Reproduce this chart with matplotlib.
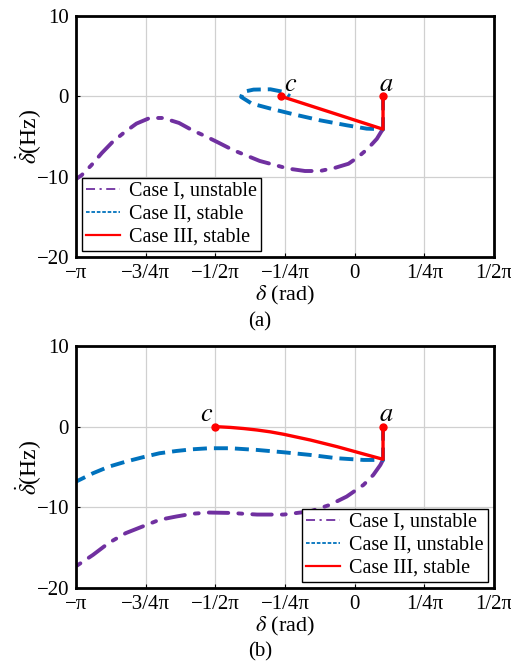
"""Phase-plane trajectories for three fault cases, panels (a) and (b)."""

import numpy as np
import matplotlib

matplotlib.use("Agg")

import matplotlib.pyplot as plt  # noqa: E402
from matplotlib.lines import Line2D  # noqa: E402

plt.rcParams["font.family"] = ["Liberation Serif", "DejaVu Serif"]
plt.rcParams["mathtext.fontset"] = "stix"

PURPLE = "#7030A0"
BLUE = "#0072BD"
RED = "#FF0000"

# ---- panel (a) data: (delta rad, delta-dot Hz)
a_case1_x = [0.32, 0.30, 0.25, 0.15, 0.04, -0.07, -0.22, -0.39, -0.56, -0.75, -1.07, -1.37,
             -1.53, -1.68, -1.83, -1.98, -2.16, -2.31, -2.46, -2.60, -2.73, -2.85, -2.97, -3.08, -3.14]
a_case1_y = [-4.1, -4.4, -5.3, -6.5, -7.55, -8.4, -8.9, -9.3, -9.3, -9.0, -8.05, -6.7,
             -5.8, -4.98, -4.23, -3.32, -2.70, -2.70, -3.40, -4.52, -5.69, -7.06, -8.6, -9.84, -10.3]
a_case2_x = [0.32, 0.32, 0.135, -0.09, -0.39, -0.69, -0.95, -1.16, -1.28, -1.26, -1.14, -0.95, -0.80, -0.73]
a_case2_y = [0.0, -4.1, -4.03, -3.61, -2.99, -2.24, -1.53, -0.91, -0.08, 0.54, 0.83, 0.87, 0.54, 0.0]
a_case3_x = [0.32, 0.32, -0.83]
a_case3_y = [0.0, -4.1, 0.0]
a_point_c = (-0.83, 0.0)

# ---- panel (b) data
b_case1_x = [0.32, 0.29, 0.21, 0.10, -0.09, -0.28, -0.50, -0.80, -1.10, -1.40, -1.64, -1.83,
             -2.01, -2.20, -2.35, -2.58, -2.77, -2.95, -3.14]
b_case1_y = [-4.1, -4.75, -5.99, -7.22, -8.67, -9.7, -10.5, -10.9, -10.9, -10.7, -10.65, -10.8,
             -11.14, -11.55, -12.2, -13.2, -14.4, -15.9, -17.3]
b_case2_x = [0.32, 0.32, 0.10, -0.20, -0.50, -0.80, -1.10, -1.40, -1.64, -1.83, -2.01, -2.20,
             -2.39, -2.58, -2.77, -2.95, -3.14]
b_case2_y = [0.0, -4.13, -4.13, -3.92, -3.51, -3.18, -2.89, -2.68, -2.68, -2.81, -3.02, -3.30,
             -3.80, -4.34, -4.96, -5.78, -6.81]
b_case3_x = [0.32, 0.32, 0.10, -0.20, -0.50, -0.80, -0.95, -1.10, -1.25, -1.40, -1.57]
b_case3_y = [0.0, -4.05, -3.39, -2.48, -1.66, -0.95, -0.65, -0.42, -0.24, -0.10, 0.0]
b_point_c = (-1.57, 0.0)

point_a = (0.32, 0.0)

xtick_vals = np.pi * np.array([-1, -0.75, -0.5, -0.25, 0, 0.25, 0.5])
xtick_labels = ["−π", "−3/4π", "−1/2π", "−1/4π", "0", "1/4π", "1/2π"]
ytick_vals = [-20, -10, 0, 10]
ytick_labels = ["−20", "−10", "0", "10"]

labels_a = ["Case I, unstable", "Case II, stable", "Case III, stable"]
labels_b = ["Case I, unstable", "Case II, unstable", "Case III, stable"]


def draw_panel(ax, c1, c2, c3, pc, labels, legend_loc, c_right):
    ax.plot(*c1, color=PURPLE, lw=2.8, ls=(0, (5, 2.6, 1.0, 2.6)), solid_capstyle="round",
            dash_capstyle="round")
    ax.plot(*c2, color=BLUE, lw=2.8, ls=(0, (3.6, 1.8)))
    ax.plot(*c3, color=RED, lw=2.4)
    ax.plot([pc[0], point_a[0]], [pc[1], point_a[1]], "o", color=RED, ms=5, ls="none")
    if c_right:
        ax.text(pc[0] + 0.03, 0.7, "$c$", fontsize=19, ha="left")
    else:
        ax.text(pc[0] - 0.02, 0.7, "$c$", fontsize=19, ha="right")
    ax.text(point_a[0] + 0.04, 0.7, "$a$", fontsize=19, ha="center")

    ax.set_xlim(-np.pi, np.pi / 2)
    ax.set_ylim(-20, 10)
    ax.set_xticks(xtick_vals, xtick_labels)
    ax.set_yticks(ytick_vals, ytick_labels)
    ax.tick_params(labelsize=15, direction="in", length=3, width=0.8, pad=5)
    ax.grid(True, color="#d0d0d0", lw=0.9)
    for s in ax.spines.values():
        s.set_linewidth(2.0)
    ax.set_xlabel(r"$\delta$ (rad)", fontsize=16, labelpad=1)
    ax.set_ylabel(r"$\dot{\delta}$(Hz)", fontsize=17)
    ax.yaxis.set_label_coords(-0.077, 0.5)

    handles = [
        Line2D([], [], color=PURPLE, lw=1.3, ls=(0, (5, 2.5, 1.2, 2.5))),
        Line2D([], [], color=BLUE, lw=1.3, ls=(0, (2, 1))),
        Line2D([], [], color=RED, lw=1.6),
    ]
    leg = ax.legend(handles, labels, loc=legend_loc, fontsize=14.5, frameon=True,
                    fancybox=False, edgecolor="black", framealpha=1,
                    borderaxespad=0.3, handlelength=1.7, labelspacing=0.2,
                    borderpad=0.2, handletextpad=0.45)
    leg.get_frame().set_linewidth(1.0)


fig = plt.figure(figsize=(5.11, 6.64), dpi=100)
ax_a = fig.add_axes([0.1487, 0.613, 0.818, 0.363])
ax_b = fig.add_axes([0.1487, 0.1145, 0.818, 0.3645])

draw_panel(ax_a, (a_case1_x, a_case1_y), (a_case2_x, a_case2_y),
           (a_case3_x, a_case3_y), a_point_c, labels_a, "lower left", True)
draw_panel(ax_b, (b_case1_x, b_case1_y), (b_case2_x, b_case2_y),
           (b_case3_x, b_case3_y), b_point_c, labels_b, "lower right", False)

fig.text(260 / 511, 1 - 322 / 664, "(a)", ha="center", va="center", fontsize=15)
fig.text(260 / 511, 1 - 652 / 664, "(b)", ha="center", va="center", fontsize=15)

fig.savefig("out.png", dpi=100)
